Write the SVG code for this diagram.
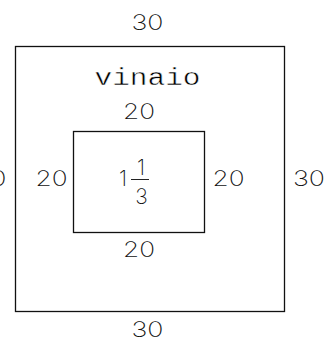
<svg xmlns="http://www.w3.org/2000/svg" width="326" height="340" viewBox="0 0 326 340">
<style>
text{font-family:"Inter","Roboto","DejaVu Sans",sans-serif;font-weight:200;font-size:21px;fill:#111;text-anchor:middle}
text.w{font-family:"Liberation Mono","DejaVu Sans Mono",monospace;font-weight:normal;font-size:23px;fill:#000;stroke:#fff;stroke-width:0.45}
.box{fill:none;stroke:#111;stroke-width:1.3}
</style>
<rect width="326" height="340" fill="#fff"/>
<g id="outer">
<rect class="box" x="15.5" y="46.5" width="269" height="265"/>
<text class="w" x="147.5" y="85" textLength="106" lengthAdjust="spacingAndGlyphs">vinaio</text>
<text x="147.5" y="30" textLength="32" lengthAdjust="spacingAndGlyphs">30</text>
<text x="147.5" y="337" textLength="32" lengthAdjust="spacingAndGlyphs">30</text>
<text x="-9.5" y="186" textLength="32" lengthAdjust="spacingAndGlyphs">30</text>
<text x="309" y="186" textLength="32" lengthAdjust="spacingAndGlyphs">30</text>
</g>
<g id="inner">
<rect class="box" x="73.5" y="131.5" width="131" height="101"/>
<text x="139" y="119" textLength="32" lengthAdjust="spacingAndGlyphs">20</text>
<text x="139" y="257" textLength="32" lengthAdjust="spacingAndGlyphs">20</text>
<text x="51.5" y="186" textLength="32" lengthAdjust="spacingAndGlyphs">20</text>
<text x="228.5" y="186" textLength="32" lengthAdjust="spacingAndGlyphs">20</text>
<text x="123" y="186">1</text>
<text x="141" y="175">1</text>
<line x1="131" y1="179.5" x2="149" y2="179.5" stroke="#222" stroke-width="1"/>
<text x="141.5" y="204">3</text>
</g>
</svg>
